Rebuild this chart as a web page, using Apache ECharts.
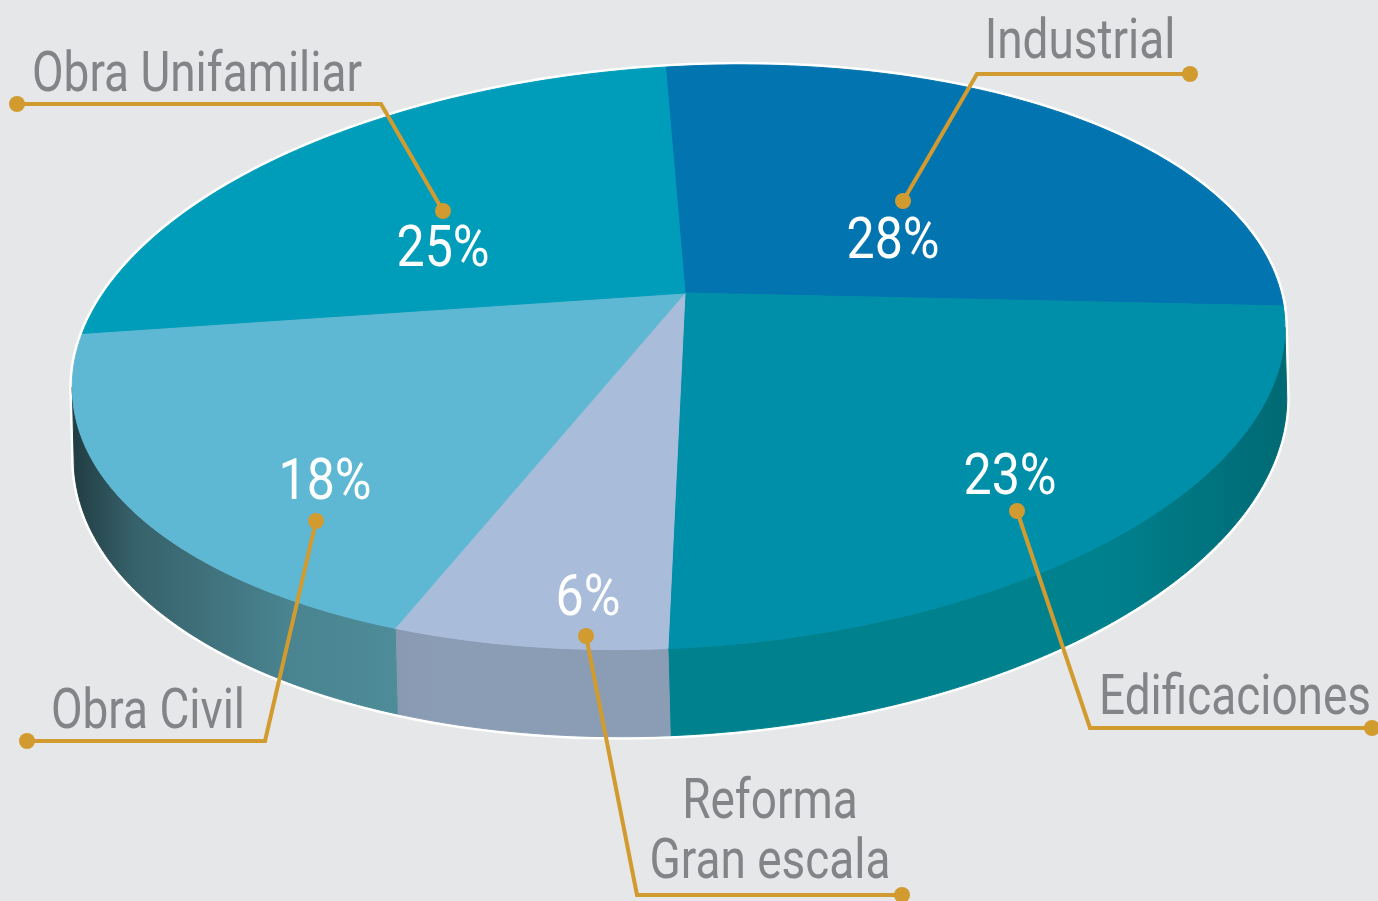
<!DOCTYPE html>
<html>
<head>
<meta charset="utf-8">
<script src="https://cdn.jsdelivr.net/npm/echarts@6/dist/echarts.min.js"></script>
<style>
  html, body { margin: 0; padding: 0; background: #e6e7e8; }
  #chart { width: 1378px; height: 901px; }
</style>
</head>
<body>
<div id="chart"></div>
<script>
// datos
var categories = ['Industrial', 'Edificaciones', 'Reforma\nGran escala', 'Obra Civil', 'Obra Unifamiliar'];
var values = [28, 23, 6, 18, 25];

// colores
var topColors = ['#0274b0', '#008fa9', '#a9bddb', '#5fb8d3', '#009dba'];
var sideColors = ['#005d8e', '#00818e', '#8b9db4', '#4f8f9c', '#007f96'];
var gold = '#d29b2f';
var grey = '#838488';
var FONT = 'Roboto, "Liberation Sans", sans-serif';

// posiciones de etiquetas y lineas guia (solo maquetacion)
var leaderLines = [
  [[903, 201], [977, 74], [1190, 74]],
  [[1017, 511], [1090, 728], [1372, 728]],
  [[586, 636], [637, 895], [902, 895]],
  [[316, 521], [265, 741], [27, 741]],
  [[443, 211], [381, 104], [17, 104]]
];
var labelPos = [[1080, 44], [1235, 700], [770, 834], [148, 714], [197, 77]];
var pctPos = [[893, 244], [1010, 480], [588, 601], [325, 485], [443, 252]];

// vista en perspectiva del disco
var view = { ax: 685, ay: 293, C: 591, B: 277, S: -35, k: -0.22, depth: 68, rot: -1.5 * Math.PI / 180 };
var startAngle = -5;

function project(phiDeg, r, h) {
  var p = phiDeg * Math.PI / 180;
  var u = r * Math.sin(p), v = -r * Math.cos(p);
  var w = 1 + view.k * v;
  var X = (view.C * u + view.S * v) / w;
  var Y = (view.B * v + h) / w;
  var c = Math.cos(view.rot), s = Math.sin(view.rot);
  return [view.ax + X * c - Y * s, view.ay + X * s + Y * c];
}

function arc(a0, a1, h) {
  var pts = [];
  var n = Math.max(2, Math.ceil(Math.abs(a1 - a0)));
  for (var i = 0; i <= n; i++) pts.push(project(a0 + (a1 - a0) * i / n, 1, h));
  return pts;
}

// silueta: angulos donde el borde es extremo en x
var phiR = 90, phiL = 270, xMax = -1e9, xMin = 1e9;
for (var a = 0; a < 360; a += 0.1) {
  var px = project(a, 1, 0)[0];
  if (px > xMax) { xMax = px; phiR = a; }
  if (px < xMin) { xMin = px; phiL = a; }
}

var total = values.reduce(function (s, v) { return s + v; }, 0);
var angles = [];
var acc = startAngle;
values.forEach(function (v) {
  var span = v / total * 360;
  angles.push([acc, acc + span]);
  acc += span;
});

function shade(hex, f) {
  var n = parseInt(hex.slice(1), 16);
  var r = Math.round(((n >> 16) & 255) * f), g = Math.round(((n >> 8) & 255) * f), b = Math.round((n & 255) * f);
  return 'rgb(' + r + ',' + g + ',' + b + ')';
}

function sideFill(hex) {
  return new echarts.graphic.LinearGradient(xMin, 0, xMax, 0, [
    { offset: 0, color: shade(hex, 0.42) },
    { offset: 0.05, color: shade(hex, 0.68) },
    { offset: 0.18, color: shade(hex, 0.92) },
    { offset: 0.3, color: shade(hex, 1) },
    { offset: 0.85, color: shade(hex, 1) },
    { offset: 1, color: shade(hex, 0.82) }
  ], true);
}

function label(text, pos, color, size, narrow) {
  return {
    type: 'text',
    x: pos[0], y: pos[1], scaleX: narrow,
    style: {
      text: text, x: 0, y: 0,
      fill: color, font: size + 'px ' + FONT, lineHeight: 60,
      align: 'center', verticalAlign: 'middle'
    }
  };
}

var chart = echarts.init(document.getElementById('chart'));

chart.setOption({
  backgroundColor: '#e6e7e8',
  animation: false,
  series: [
    {
      type: 'custom',
      coordinateSystem: 'none',
      z: 1,
      silent: true,
      data: [0],
      renderItem: function () {
        var pts = arc(phiL, phiR + 360, 0).concat(arc(phiR, phiL, view.depth));
        return {
          type: 'polygon',
          shape: { points: pts },
          style: { fill: '#ffffff', stroke: '#ffffff', lineWidth: 6, lineJoin: 'round' }
        };
      }
    },
    {
      type: 'custom',
      coordinateSystem: 'none',
      z: 2,
      data: values,
      renderItem: function (params) {
        var i = params.dataIndex;
        var a0 = Math.max(angles[i][0], phiR);
        var a1 = Math.min(angles[i][1], phiL);
        if (a1 <= a0) return { type: 'group', children: [] };
        var pts = arc(a0, a1, 0).concat(arc(a1, a0, view.depth));
        var fill = sideFill(sideColors[i]);
        return {
          type: 'polygon',
          shape: { points: pts },
          style: { fill: fill, stroke: fill, lineWidth: 1 }
        };
      }
    },
    {
      type: 'custom',
      coordinateSystem: 'none',
      z: 3,
      data: values,
      renderItem: function (params) {
        var i = params.dataIndex;
        var pts = [project(0, 0, 0)].concat(arc(angles[i][0], angles[i][1], 0));
        return {
          type: 'polygon',
          shape: { points: pts },
          style: { fill: topColors[i], stroke: topColors[i], lineWidth: 1 }
        };
      }
    },
    {
      type: 'custom',
      coordinateSystem: 'none',
      z: 4,
      data: values,
      renderItem: function (params, api) {
        var i = params.dataIndex;
        var line = leaderLines[i];
        var first = line[0], last = line[line.length - 1];
        return {
          type: 'group',
          children: [
            {
              type: 'polyline',
              shape: { points: line },
              style: { stroke: gold, lineWidth: 4, fill: null, lineJoin: 'miter' }
            },
            { type: 'circle', shape: { cx: first[0], cy: first[1], r: 8 }, style: { fill: gold } },
            { type: 'circle', shape: { cx: last[0], cy: last[1], r: 8 }, style: { fill: gold } },
            label(categories[i], labelPos[i], grey, 56, 0.82),
            label(api.value(0) + '%', pctPos[i], '#ffffff', 57, 0.88)
          ]
        };
      }
    }
  ]
});
</script>
</body>
</html>
